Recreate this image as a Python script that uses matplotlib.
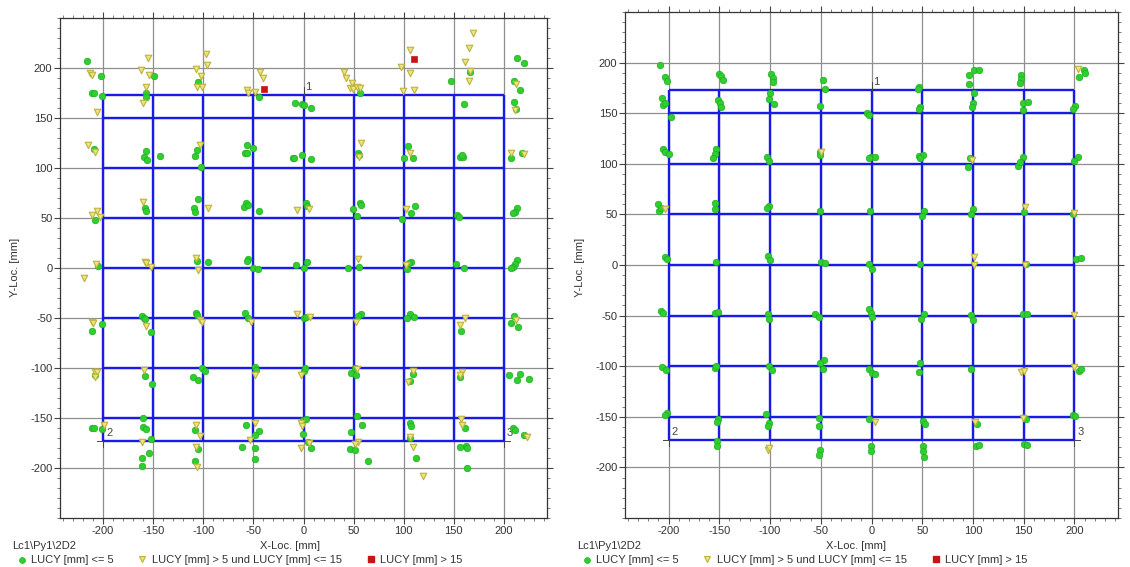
import matplotlib
matplotlib.use("Agg")
import matplotlib.pyplot as plt
from matplotlib.lines import Line2D
from matplotlib.ticker import MultipleLocator
import numpy as np

plt.rcParams['font.family'] = ['Liberation Sans', 'DejaVu Sans']
plt.rcParams['axes.unicode_minus'] = False

# ---------------- data ----------------
grid_x = [-200, -150, -100, -50, 0, 50, 100, 150, 200]
grid_y = [-173, -150, -100, -50, 0, 50, 100, 150, 173]
tick_vals = [-200, -150, -100, -50, 0, 50, 100, 150, 200]

corner_labels = ["1", "2", "3"]
corner_x = [0, -200, 200]
corner_y = [173, -173, -173]

path_label = "Lc1\\Py1\\2D2"
legend_labels = ["LUCY [mm] <= 5", "LUCY [mm] > 5 und LUCY [mm] <= 15", "LUCY [mm] > 15"]

# Left panel ---------------------------------------------------------
left_green_x = [-216.5, -201.8, -211.5, -209.5, -201.2, -209, -208.5, -204.8,
                -157.5, -157.5, -149.2, -157.5, -159.2, -155.8, -143.5, -158.2, -157.5,
                -105.2, -105.8, -108.2, -101.8, -104.8, -108.8, -108.2, -106.5, -95.8,
                -44.8, -56.8, -58.2, -56.8, -50.2, -57.5, -59.2, -55.8, -44.2, -55.8, -56.5, -50.2, -45.8,
                -8.5, -1.2, 0.5, 7.2, -10.8, -9.2, -1.2, 7.2, 2.5, 3.2, -7.5, 3.8, 0.8,
                56.5, 54.2, 55.8, 56.5, 57.2, 49.8, 53.8, 55.8, 44.8,
                104.2, 100.5, 108.8, 110.8, 107.2, 98.2, 107.2, 105.5, 103.2,
                166.5, 147.2, 159.8, 156.5, 159.2, 158.2, 153.2, 154.8, 152.5, 159.8,
                213.4, 219.9, 209.8, 216.3, 209.8, 211.6, 206.6, 218.1, 213.4, 210.9, 209.1, 213.4, 210.9, 209.1, 206.6,
                -211.5, -200.8, -210.8, -209.2, -200.8, -208,
                -161.5, -159.2, -158.2, -152.5, -158.5, -150.8, -160.2, -159.8, -156.8, -151.8, -154.2, -161.5, -161.5,
                -107.5, -106.5, -101.5, -98.2, -110.2, -104.8, -108.2, -104.8, -108.2,
                -58.2, -55.8, -48.5, -47.5, -57.5, -44.8, -48.8, -61.5, -48.5, -48.5,
                0.5, 2.0, 0.5, 1.5, -0.8, 2.5, -0.8, 4.2, 7.2,
                57.2, 54.8, 47.2, 51.5, 52.2, 53.8, 58.2, 47.5, 46.5, 51.5, 64.5,
                105.8, 103.2, 109.8, 108.8, 105.8, 105.8, 107.2, 106.5, 112.2,
                157.5, 156.5, 161.5, 156.5, 162.5, 163.2, 163.2,
                209.8, 207.3, 214.5, 205.5, 216.3, 213.4, 224.6, 209.1, 210.9, 219.9]
left_green_y = [207.3, 192, 175.3, 175.3, 172.3, 119, 48, 2,
                174.7, 171.3, 192, 117, 111.3, 108, 111.7, 59.7, 57,
                185.7, 118, 112, 101.3, 68.7, 59.7, 56.3, 7.3, 6.3,
                170.7, 123, 115.3, 114.7, 119.7, 65.3, 61.3, 63, 57.3, 9, 7.3, -0.3, -1.3,
                164.7, 164, 163, 160, 110.3, 109.7, 113, 109.3, 64.7, 62.3, 3, 6.3, 0,
                174.7, 115.3, 113, 65.3, 62.7, 58.7, 52, 1.3, 0.3,
                122, 110, 109.7, 62, 54.7, 48.7, 6.3, 4.7, -1.3,
                196.3, 187, 163.7, 111.3, 110.7, 113, 53, 51.3, 3.7, 0.3,
                209.7, 204.7, 187.3, 178, 165.7, 159.3, 109.7, 115.3, 60.3, 56, 55.3, 8, 4, 0.7, -0.3,
                -62.7, -56.3, -160.3, -159.7, -161.3, -107,
                -47.7, -49.7, -51.3, -64.3, -108, -116.3, -149.7, -159.3, -161.3, -171.3, -184.7, -190.3, -198,
                -45.3, -47, -99.7, -103, -109.3, -112, -162, -181.3, -193,
                -45.3, -50.3, -98.7, -102, -156.7, -162.7, -167, -178.7, -180.3, -191,
                -50.3, -49, -102.7, -100, -152, -151.3, -166.3, -173.7, -179.7,
                -46, -48, -104.7, -99.7, -107.3, -147.7, -156.7, -163.7, -181, -181.7, -193.3,
                -46.3, -50.3, -49.3, -106.3, -112.7, -155.3, -157.7, -170.3, -190.3,
                -62.7, -109.3, -160.3, -179.3, -178, -180.3, -199.7,
                -48, -55.3, -58.7, -107, -106, -112, -110.7, -160.3, -162, -167]

left_yellow_x = [-213.2, -211.5, -205.8, -214.8, -208.5, -210.8, -205.8, -203, -207.5, -219.2,
                 -154.8, -162.5, -154.2, -156.8, -159.8, -159.8, -158.2, -156.8, -152.5,
                 -97.5, -96.8, -107.5, -101.8, -106.5, -100.8, -103.2, -95.2, -107.5, -104.8,
                 -56.5, -55.8, -48.2, -43.5, -40.8,
                 -6.2, 5.8,
                 40.5, 42.2, 48.2, 46.5, 49.2, 53.8, 56.5, 57.5, 55.8, 54.8,
                 106.5, 97.5, 105.8, 99.2, 110.5, 105.8, 102.2, 102.2,
                 168.8, 164.8, 161.5, 166.5, 164.8,
                 211.6, 210.9, 207.3, 219.9,
                 -211.5, -210.2, -208.2, -205.8, -208.2, -199.2,
                 -157.5, -159.2, -161.5,
                 -103.5, -100.8, -107.5, -103.5, -106.8, -105.8,
                 -52.5, -48.2, -48.2, -53.2,
                 -6.2, 6.5, -2.8, -2.8, -1.8, 5.8, -2.8,
                 52.5, 53.2, 54.8, 51.5,
                 109.2, 103.8, 105.8, 108.8, 119.2,
                 161.5, 156.5, 158.2, 155.8, 157.5, 158.2,
                 211.6, 222.8]
left_yellow_y = [194.7, 193.5, 156, 122.7, 116, 53, 57.3, 51, 4, -10.3,
                 210.3, 198, 193.3, 180.7, 165.3, 65.7, 6.3, 5.3, 1.3,
                 213.7, 203, 198.7, 192.3, 180.7, 180.7, 122.7, 60, 9.7, -2,
                 178, 174.7, 176, 196.3, 189.7,
                 58, 59.3,
                 195.7, 189.7, 184.7, 179.7, 179, 181.3, 179.7, 124.7, 110.7, 8.7,
                 218, 200.7, 194.7, 177.3, 178, 114.7, 58.7, 3,
                 234.7, 219.7, 206.3, 197.3, 187,
                 184, 157.7, 114.7, 114,
                 -53.7, -55.3, -103.7, -103.7, -108.7, -157,
                 -58, -102, -174.3,
                 -52, -54.3, -157, -167.7, -179.3, -199.3,
                 -53.7, -107, -155.3, -172,
                 -46.3, -48.7, -107, -155.3, -158, -174.7, -180.3,
                 -54.3, -100.7, -173.7, -176,
                 -102.7, -114.3, -168.7, -179.3, -208,
                 -49.7, -57, -103.7, -107, -151, -157,
                 -52, -169.3]

left_red_x = [-39.2, 109.8]
left_red_y = [179, 208.7]

# Right panel --------------------------------------------------------
right_green_x = [-208.9, -203.9, -201.6, -206.6, -205.9, -203.9, -197.4, -205.9, -203.3, -199.3,
                 -210.5, -209.9, -207.2, -203.3, -201.6,
                 -150.7, -148, -146.7, -151.3, -149, -148, -153.3, -154.6, -156.3, -154.6, -154, -153.3,
                 -98.7, -97, -97, -100.3, -100.7, -96.4, -103, -101.3, -101.3, -103, -102.3, -100.3,
                 -47.7, -46.1, -50.3, -50.3, -51, -50.3, -49.3, -46.1,
                 -4.6, -2.6, -0.3, 3, -2.6, -1, -2, 0.7,
                 47.3, 46, 47.9, 46.6, 46.6, 50.6, 48.3, 52.2, 49.9, 48.3,
                 96.6, 100.8, 106.4, 96.6, 101.5, 99.8, 98.8, 97.5, 94.9, 99.8, 98.2,
                 147.5, 147.5, 146.5, 149.1, 154, 149.1, 149.8, 144.2, 146.5, 150.7, 152,
                 209.9, 210.8, 204.3, 201, 198.4, 203.3, 199.3, 198.5, 201.6, 206.6,
                 -207.2, -205.9, -206.6, -202.6, -201.6, -203.3,
                 -153.9, -151.3, -154.6, -153.3, -151.3, -152.3, -152.3, -152.3,
                 -102, -100.7, -100.7, -98, -104, -100.7, -102,
                 -55.3, -52, -46.4, -50.3, -48, -52, -52, -50.3, -52,
                 -2, -0.3, 0.7, -2.6, 0.7, 3, -2, -0.3, -0.3,
                 52.2, 48.9, 47.9, 47.3, 50.6, 52.9, 50.6, 51.2, 52.2,
                 98.2, 100.5, 98.2, 103.8, 103.1, 106.4,
                 149.1, 153, 152.4, 150.1, 153,
                 204.9, 206.6, 198.4, 200.6]
right_green_y = [197.4, 186.2, 181.9, 165.5, 158.2, 160.5, 146.7, 114.5, 111.2, 109.5,
                 60.2, 53.6, 55.9, 7.6, 5.9,
                 188.5, 186.8, 182.9, 163.2, 159.9, 156.6, 114.5, 109.5, 105.3, 60.9, 55.3, 2.6,
                 188.5, 185.2, 181.3, 170.4, 163.8, 158.9, 107.2, 103, 58.6, 55.9, 8.6, 5.3,
                 182.9, 173.7, 157.2, 111.2, 108.6, 53, 2.6, 1.6,
                 150, 148.4, 106.3, 106.3, 105.3, 53.6, 1, -4,
                 176.3, 173.7, 156.6, 154.6, 107.9, 108.9, 105.3, 53.6, 48.7, 1,
                 187.5, 192.4, 192.4, 178.6, 169.7, 160.5, 156.6, 105.3, 97, 55.3, 50.3,
                 187.5, 184.2, 180.3, 160.5, 161.2, 153.3, 106.3, 98, 101.3, 52, 0.5,
                 192.8, 190.1, 186.2, 157.2, 154.6, 106.3, 103, 50, 5.9, 6.6,
                 -45.1, -47.7, -100.3, -103.6, -146.4, -148,
                 -47, -46.1, -102, -99.7, -152.3, -155.6, -174.3, -179.3,
                 -48.4, -53.6, -99.7, -103.6, -147.7, -156.3, -159.5,
                 -48.4, -51, -93.8, -97, -103, -151.3, -159.5, -182.6, -187.5,
                 -43.8, -47, -51, -103, -106.3, -107.6, -152.3, -179.3, -184.2,
                 -48.4, -53.6, -97, -105.3, -154.6, -156.9, -179.3, -184.2, -189.8,
                 -49.3, -54.3, -103, -156.9, -179.3, -178.3,
                 -48.7, -48.7, -152, -176.6, -177.6,
                 -104.3, -103, -148.7, -149]

right_yellow_x = [-203.9, -49.3, 98.8, 101.5, 101.5, 151.4, 151.4, 203.3, 200,
                  -102.3, -101, 3, 102.5, 147.5, 150.7, 149.1, 199.3, 200]
right_yellow_y = [55.3, 111.8, 103.6, 7.6, 0, 56.9, 0, 193.4, 51,
                  -183.2, -181, -155.6, -155.6, -105.3, -104.6, -150.7, -49.3, -100.3]

right_red_x = []
right_red_y = []

# ---------------- styles ----------------
W, H = 1130, 567
GREEN = '#2fcf2f'
GREEN_E = '#1fae1f'
YEL = '#ebe57a'
YEL_E = '#bdb240'
RED = '#c81414'
BLUE = '#1a1ae6'
TXT = '#333333'

fig = plt.figure(figsize=(W / 100, H / 100), dpi=100)


def px_axes(x0, y0, x1, y1):
    return fig.add_axes([x0 / W, 1 - y1 / H, (x1 - x0) / W, (y1 - y0) / H])


def draw_panel(ax, gx, gy, yx, yy, rx, ry):
    ax.set_xlim(-243, 243)
    ax.set_ylim(-250, 250)
    ax.set_xticks(tick_vals)
    ax.set_yticks(tick_vals)
    ax.xaxis.set_minor_locator(MultipleLocator(10))
    ax.yaxis.set_minor_locator(MultipleLocator(10))
    ax.tick_params(which='major', direction='out', length=4, width=0.8, color='#444444',
                   labelsize=8, labelcolor=TXT, pad=1.5,
                   top=True, right=True, bottom=True, left=True)
    ax.tick_params(which='minor', direction='out', length=2.2, width=0.6, color='#666666',
                   top=True, right=True, bottom=True, left=True)
    ax.grid(True, which='major', color='#8f8f8f', linewidth=0.9, zorder=0)
    for s in ax.spines.values():
        s.set_color('#333333')
        s.set_linewidth(0.9)
    # blue measurement grid
    for xv in grid_x:
        ax.plot([xv, xv], [grid_y[0], grid_y[-1]], color=BLUE, lw=1.7, zorder=2,
                solid_capstyle='butt')
    for yv in grid_y:
        ax.plot([grid_x[0], grid_x[-1]], [yv, yv], color=BLUE, lw=1.7, zorder=2,
                solid_capstyle='butt')
    # reference corner markers
    ax.plot([0, 0], [173, 181], color='#444444', lw=0.7, zorder=3)
    ax.plot([-206, -200], [-173, -173], color='#444444', lw=0.7, zorder=3)
    ax.plot([200, 206], [-173, -173], color='#444444', lw=0.7, zorder=3)
    ax.plot([-200, -200], [-173, -179], color='#444444', lw=0.7, zorder=3)
    ax.plot([200, 200], [-173, -179], color='#444444', lw=0.7, zorder=3)
    offs = [(2, 3), (3, 3), (3, 3)]
    for lab, cx, cy, (dx, dy) in zip(corner_labels, corner_x, corner_y, offs):
        ax.text(cx + dx, cy + dy, lab, fontsize=8, color='#444444', ha='left', va='bottom',
                zorder=4)
    # points
    ax.scatter(gx, gy, s=22, marker='o', c=GREEN, edgecolors=GREEN_E, linewidths=0.5, zorder=5)
    ax.scatter(yx, yy, s=22, marker='v', c=YEL, edgecolors=YEL_E, linewidths=0.8, zorder=6)
    if len(rx):
        ax.scatter(rx, ry, s=22, marker='s', c=RED, edgecolors=RED, linewidths=0.5, zorder=7)


axL = px_axes(60, 18, 547, 518)
draw_panel(axL, left_green_x, left_green_y, left_yellow_x, left_yellow_y, left_red_x, left_red_y)
axR = px_axes(625, 12, 1118, 518)
draw_panel(axR, right_green_x, right_green_y, right_yellow_x, right_yellow_y, right_red_x, right_red_y)


def ftext(px, py, s, **kw):
    fig.text(px / W, 1 - py / H, s, color=TXT, fontsize=8, **kw)


def fmark(px, py, **kw):
    fig.add_artist(Line2D([px / W], [1 - py / H], transform=fig.transFigure, linestyle='none', **kw))


for off, xlab_c in [(0, 290), (565, 856)]:
    ftext(xlab_c, 546, "X-Loc. [mm]", ha='center', va='center')
    ftext(off + 15, 267, "Y-Loc. [mm]", ha='center', va='center', rotation=90)
    ftext(off + 12, 546, path_label, ha='left', va='center')
    fmark(off + 22, 560, marker='o', markersize=4.2, markerfacecolor=GREEN, markeredgecolor=GREEN_E,
          markeredgewidth=0.5)
    ftext(off + 31, 560, legend_labels[0], ha='left', va='center')
    fmark(off + 142, 559, marker='v', markersize=4.6, markerfacecolor=YEL, markeredgecolor=YEL_E,
          markeredgewidth=0.8)
    ftext(off + 152, 560, legend_labels[1], ha='left', va='center')
    fmark(off + 371, 559, marker='s', markersize=3.8, markerfacecolor=RED, markeredgecolor=RED)
    ftext(off + 380, 560, legend_labels[2], ha='left', va='center')

fig.savefig("out.png", dpi=100)
